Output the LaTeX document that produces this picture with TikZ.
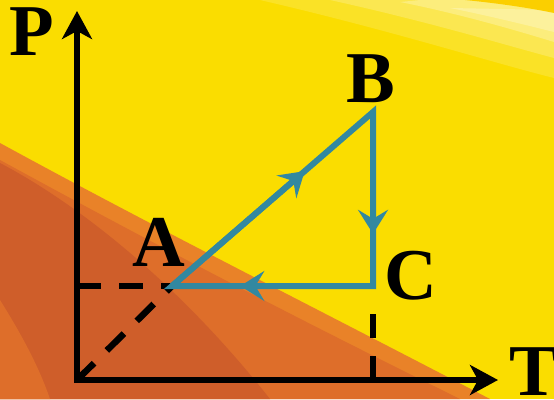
\documentclass[tikz,border=0pt]{standalone}
\usepackage{fontspec}
\setmainfont{Liberation Serif}
\usetikzlibrary{arrows.meta,positioning,calc}
\definecolor{sunyellow}{RGB}{250,221,0}
\definecolor{lightorange}{RGB}{233,130,40}
\definecolor{midorange}{RGB}{222,110,42}
\definecolor{darkorange}{RGB}{207,94,42}
\definecolor{cycleblue}{RGB}{50,136,160}

\begin{document}
\begin{tikzpicture}[
        x=1pt,y=-1pt,
        axis/.style={line width=6pt,line cap=rect,-{Stealth[length=28pt,width=30pt,inset=8pt]}},
        guide/.style={line width=6.5pt,dash pattern=on 24pt off 18pt},
        cycleline/.style={cycleblue,line width=6pt,line join=miter},
        flow/.style={cycleblue,line width=6pt,-{Stealth[length=24pt,width=30pt,inset=9pt]}},
        lbl/.style={font=\fontsize{73}{73}\selectfont\bfseries,inner sep=0pt}
    ]
        \useasboundingbox (0,0) rectangle (554,399);

        % Backdrop
        \fill[sunyellow] (0,0) rectangle (554,399);
        \fill[white,opacity=.15] (260,0) .. controls (390,30) and (490,62) .. (554,78) -- (554,0) -- cycle;
        \fill[white,opacity=.2] (330,0) .. controls (430,22) and (505,45) .. (554,58) -- (554,0) -- cycle;
        \fill[white,opacity=.25] (400,2) .. controls (460,14) and (515,30) .. (554,42) -- (554,0) -- (420,0) -- cycle;
        \fill[white,opacity=.25] (450,8) .. controls (490,16) and (530,26) .. (554,32) -- (554,10) -- cycle;
        \fill[sunyellow!85!orange] (465,0) .. controls (505,4) and (535,9) .. (554,13) -- (554,0) -- cycle;
        \fill[lightorange] (0,143) .. controls (150,225) and (300,300) .. (490,399) -- (0,399) -- cycle;
        \fill[midorange] (0,160) .. controls (150,242) and (290,315) .. (460,399) -- (0,399) -- cycle;
        \fill[darkorange] (0,163) .. controls (80,205) and (180,285) .. (270,399) -- (0,399) -- cycle;
        \fill[midorange] (0,300) .. controls (25,340) and (40,370) .. (50,399) -- (0,399) -- cycle;

        % States
        \coordinate (O) at (77,380);
        \coordinate (ytip) at (77,11);
        \coordinate (xtip) at (498,380);
        \coordinate (A) at (172,286);
        \coordinate (B) at (373,112);
        \coordinate (C) at (373,286);
        \coordinate (Ay) at (O |- A);
        \coordinate (Cx) at (C |- O);

        % Guides
        \draw[guide] (Ay) -- (A);
        \draw[guide] (O) -- (A);
        \draw[guide,shorten >=22pt] (Cx) -- (C);

        % Axes
        \draw[axis] (O) -- (ytip);
        \draw[axis] (O) -- (xtip);

        % Cycle
        \draw[cycleline] (A) -- (B) -- (C) -- cycle;
        \draw[flow] (A) -- ($(A)!.66!(B)$);
        \draw[flow] (B) -- ($(B)!.70!(C)$);
        \draw[flow] (C) -- ($(C)!.66!(A)$);

        % Labels
        \node[lbl,left=23pt of ytip,yshift=-21pt] (P) {P};
        \node[lbl,right=11pt of xtip,yshift=8pt] (T) {T};
        \node[lbl,above=19pt of A,xshift=-13pt] (Alabel) {A};
        \node[lbl,above=9pt of B,xshift=-2pt] (Blabel) {B};
        \node[lbl,right=11pt of C,yshift=10pt] (Clabel) {C};
    \end{tikzpicture}
\end{document}
